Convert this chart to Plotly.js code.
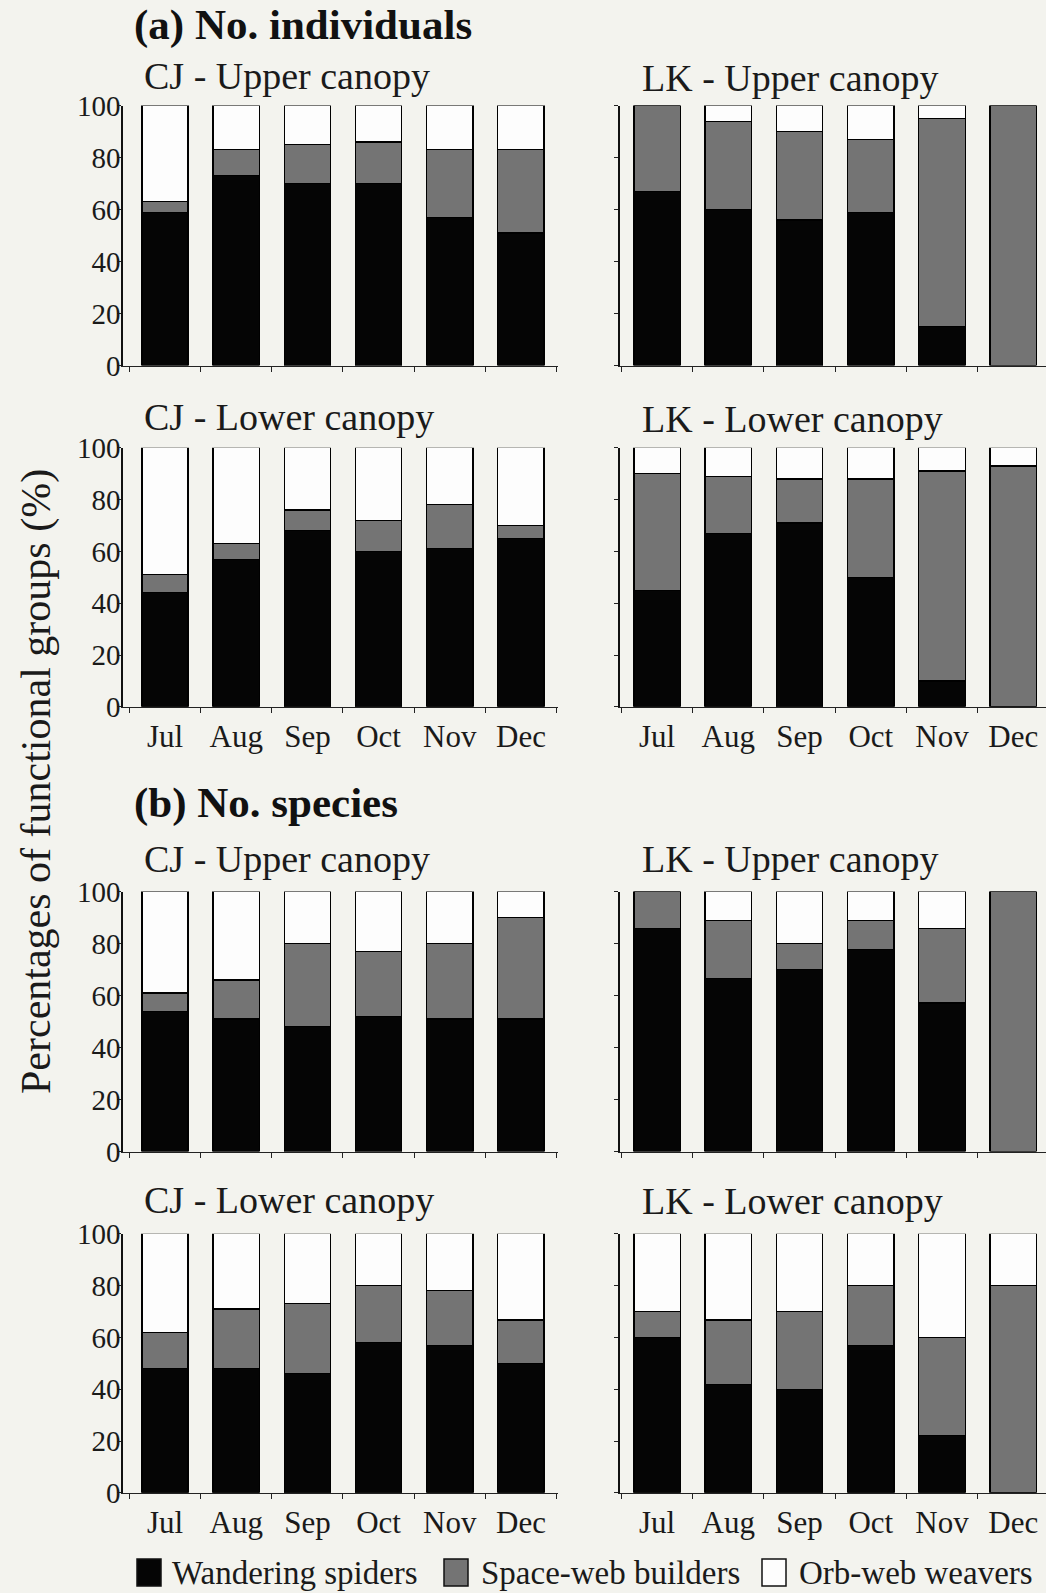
<!DOCTYPE html>
<html>
<head>
<meta charset="utf-8">
<script src="https://cdn.plot.ly/plotly-3.0.1.min.js"></script>
<style>
  html, body { margin: 0; padding: 0; background: #f3f3ee; }
  #chart { width: 1046px; height: 1593px; }
</style>
</head>
<body>
<div id="chart"></div>
<script>
// Monthly share (%) of spider functional groups, CJ and LK sites, two canopy strata
const months = ['Jul', 'Aug', 'Sep', 'Oct', 'Nov', 'Dec'];
const groupNames = ['Wandering spiders', 'Space-web builders', 'Orb-web weavers'];
const groupColors = ['#050505', '#747474', '#fdfdfd'];

// (a) No. individuals
const indCjUpperWander = [59, 73, 70, 70, 57, 51];
const indCjUpperSpace  = [4, 10, 15, 16, 26, 32];
const indCjUpperOrb    = [37, 17, 15, 14, 17, 17];

const indLkUpperWander = [67, 60, 56, 59, 15, 0];
const indLkUpperSpace  = [33, 34, 34, 28, 80, 100];
const indLkUpperOrb    = [0, 6, 10, 13, 5, 0];

const indCjLowerWander = [44, 57, 68, 60, 61, 65];
const indCjLowerSpace  = [7, 6, 8, 12, 17, 5];
const indCjLowerOrb    = [49, 37, 24, 28, 22, 30];

const indLkLowerWander = [45, 67, 71, 50, 10, 0];
const indLkLowerSpace  = [45, 22, 17, 38, 81, 93];
const indLkLowerOrb    = [10, 11, 12, 12, 9, 7];

// (b) No. species
const spCjUpperWander = [54, 51, 48, 52, 51, 51];
const spCjUpperSpace  = [7, 15, 32, 25, 29, 39];
const spCjUpperOrb    = [39, 34, 20, 23, 20, 10];

const spLkUpperWander = [85.7, 66.7, 70, 77.8, 57.1, 0];
const spLkUpperSpace  = [14.3, 22.2, 10, 11.1, 28.6, 100];
const spLkUpperOrb    = [0, 11.1, 20, 11.1, 14.3, 0];

const spCjLowerWander = [48, 48, 46, 58, 57, 50];
const spCjLowerSpace  = [14, 23, 27, 22, 21, 16.7];
const spCjLowerOrb    = [38, 29, 27, 20, 22, 33.3];

const spLkLowerWander = [60, 41.7, 40, 57, 22, 0];
const spLkLowerSpace  = [10, 25, 30, 23, 38, 80];
const spLkLowerOrb    = [30, 33.3, 30, 20, 40, 20];

const panelTitles = [
  'CJ - Upper canopy', 'LK - Upper canopy', 'CJ - Lower canopy', 'LK - Lower canopy',
  'CJ - Upper canopy', 'LK - Upper canopy', 'CJ - Lower canopy', 'LK - Lower canopy'
];
const sectionTitles = ['(a) No. individuals', '(b) No. species'];
const yTitle = 'Percentages of functional groups (%)';
const yTicks = [0, 20, 40, 60, 80, 100];

const panels = [
  [indCjUpperWander, indCjUpperSpace, indCjUpperOrb],
  [indLkUpperWander, indLkUpperSpace, indLkUpperOrb],
  [indCjLowerWander, indCjLowerSpace, indCjLowerOrb],
  [indLkLowerWander, indLkLowerSpace, indLkLowerOrb],
  [spCjUpperWander, spCjUpperSpace, spCjUpperOrb],
  [spLkUpperWander, spLkUpperSpace, spLkUpperOrb],
  [spCjLowerWander, spCjLowerSpace, spCjLowerOrb],
  [spLkLowerWander, spLkLowerSpace, spLkLowerOrb]
];

// page geometry (pixels)
const W = 1046, H = 1593;
const fx = px => px / W;
const fy = px => 1 - px / H;
const colX = [[123, 558], [620, 1046]];
const colRange = [[-0.59, 5.52], [-0.52, 5.46]];
const rowY = [[105.6, 365.6], [447.8, 706.8], [891.6, 1151.6], [1233.8, 1492.8]];
const titleY = [[76, 78], [417, 419], [859, 859], [1200, 1201]];
const titleX = [142, 640];

const serif = 'Liberation Serif, Times New Roman, serif';
const ink = '#1a1a1a';

const traces = [];
const layout = {
  width: W, height: H,
  margin: {l: 0, r: 0, t: 0, b: 0},
  paper_bgcolor: '#f3f3ee',
  plot_bgcolor: '#f3f3ee',
  barmode: 'stack',
  bargap: 0.35,
  showlegend: false,
  font: {family: serif, size: 27, color: ink},
  annotations: [],
  shapes: []
};

panels.forEach((series, i) => {
  const row = Math.floor(i / 2), col = i % 2;
  const n = i + 1;
  const xa = n === 1 ? 'x' : 'x' + n;
  const ya = n === 1 ? 'y' : 'y' + n;
  series.forEach((vals, g) => {
    traces.push({
      type: 'bar',
      x: months,
      y: vals,
      name: groupNames[g],
      xaxis: xa, yaxis: ya,
      marker: {color: groupColors[g], line: {color: '#000', width: 1.3}},
      hoverinfo: 'skip'
    });
  });
  const showX = row === 1 || row === 3;
  layout['xaxis' + (n === 1 ? '' : n)] = {
    domain: [fx(colX[col][0]), fx(colX[col][1])],
    anchor: ya,
    type: 'category',
    range: colRange[col],
    showline: true, linecolor: '#222', linewidth: 1.2,
    ticks: 'outside', tickson: 'boundaries', ticklen: 5, tickcolor: '#222',
    showticklabels: showX,
    ticklabelstandoff: 2,
    tickfont: {family: serif, size: 31, color: ink},
    showgrid: false, zeroline: false, fixedrange: true
  };
  layout['yaxis' + (n === 1 ? '' : n)] = {
    domain: [fy(rowY[row][1]), fy(rowY[row][0])],
    anchor: xa,
    range: [0, 100],
    tickvals: yTicks,
    showline: true, linecolor: '#111', linewidth: 1.6,
    ticks: 'outside', ticklen: 4, tickcolor: '#222',
    showticklabels: col === 0,
    ticklabelstandoff: -9,
    tickfont: {family: serif, size: 29, color: ink},
    showgrid: false, zeroline: false, fixedrange: true
  };
  layout.annotations.push({
    xref: 'paper', yref: 'paper',
    x: fx(titleX[col]), y: fy(titleY[row][col]),
    xanchor: 'left', yanchor: 'middle',
    text: panelTitles[i], showarrow: false,
    font: {family: serif, size: 38, color: ink}
  });
});

// section headings
[[132, 25], [132, 803]].forEach((p, k) => {
  layout.annotations.push({
    xref: 'paper', yref: 'paper', x: fx(p[0]), y: fy(p[1]),
    xanchor: 'left', yanchor: 'middle',
    text: '<b>' + sectionTitles[k] + '</b>', showarrow: false,
    font: {family: serif, size: 43, color: '#111'}
  });
});

// shared y title
layout.annotations.push({
  xref: 'paper', yref: 'paper', x: fx(36), y: fy(782),
  xanchor: 'center', yanchor: 'middle', textangle: -90,
  text: yTitle, showarrow: false,
  font: {family: serif, size: 42, color: ink}
});

// legend row
const legendKeys = [[137, 170], [444, 479], [762, 797]];
legendKeys.forEach((k, g) => {
  layout.shapes.push({
    type: 'rect', xref: 'paper', yref: 'paper',
    x0: fx(k[0]), x1: fx(k[0] + 24), y0: fy(1586), y1: fy(1559),
    fillcolor: groupColors[g], line: {color: '#111', width: 1.5}
  });
  layout.annotations.push({
    xref: 'paper', yref: 'paper', x: fx(k[1]), y: fy(1573),
    xanchor: 'left', yanchor: 'middle',
    text: groupNames[g], showarrow: false,
    font: {family: serif, size: 33, color: ink}
  });
});

Plotly.newPlot('chart', traces, layout, {displayModeBar: false, staticPlot: true});
</script>
</body>
</html>
